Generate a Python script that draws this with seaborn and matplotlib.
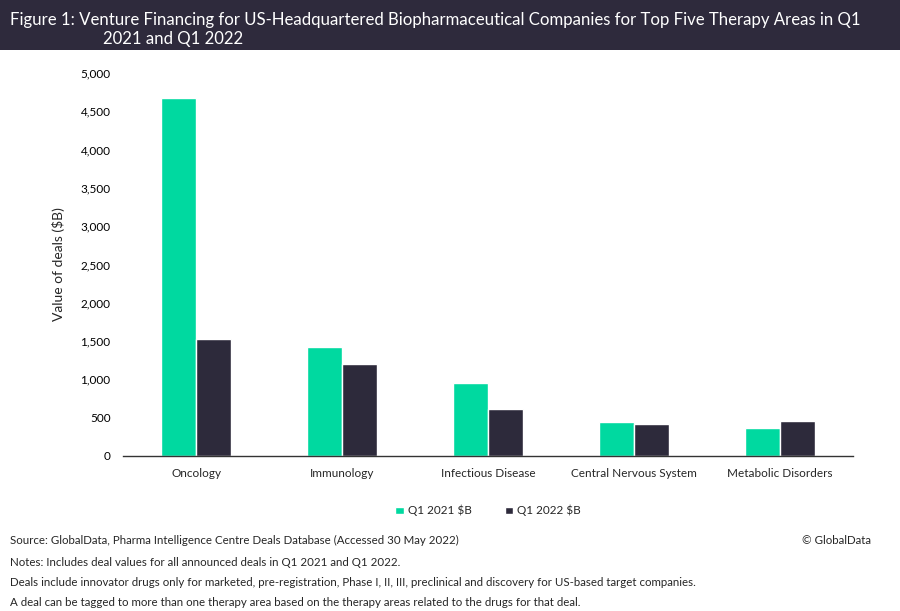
import pandas as pd
import numpy as np
import matplotlib
matplotlib.use("Agg")
import matplotlib.pyplot as plt
from matplotlib.patches import Rectangle
from matplotlib.ticker import FuncFormatter, FixedLocator
import seaborn as sns

### values
areas = ['Oncology', 'Immunology', 'Infectious Disease',
         'Central Nervous System', 'Metabolic Disorders']
q1_2021 = [4670, 1427, 949, 444, 370]
q1_2022 = [1531, 1201, 610, 422, 453]
series = ['Q1 2021 $B', 'Q1 2022 $B']

yticks = [0, 500, 1000, 1500, 2000, 2500, 3000, 3500, 4000, 4500, 5000]

green = '#00D9A0'
dark = '#2D2A3B'

df = pd.DataFrame({
    'area': areas * 2,
    'value': q1_2021 + q1_2022,
    'series': [series[0]] * len(areas) + [series[1]] * len(areas),
})

sns.set_style('white')
plt.rcParams['font.family'] = ['Lato', 'DejaVu Sans']

fig = plt.figure(figsize=(9, 6.11), dpi=100)
ax = fig.add_axes([0.1367, 0.2537, 0.8111, 0.6268])

sns.barplot(data=df, x='area', y='value', hue='series', order=areas,
            hue_order=series, palette=[green, dark], width=0.48,
            saturation=1, ax=ax, legend=True)

ax.set_xlim(-0.5, len(areas) - 0.5)
ax.set_ylim(0, 5000)
ax.set_yticks(yticks)
ax.yaxis.set_major_formatter(FuncFormatter(lambda v, p: f'{int(v):,}'))
ax.tick_params(axis='y', length=0, labelsize=8.5, colors='#000000', pad=9)
ax.tick_params(axis='x', which='major', length=0, labelsize=8.5, pad=9)
ax.xaxis.set_minor_locator(FixedLocator(np.arange(-0.5, len(areas), 1.0)))
ax.tick_params(axis='x', which='minor', length=4, width=1, color='#333333',
               direction='out')
ax.set_xlabel('')
ax.set_ylabel('Value of deals ($B)', fontsize=10, labelpad=11)
for s in ['top', 'right', 'left']:
    ax.spines[s].set_visible(False)
ax.spines['bottom'].set_color('#333333')
ax.spines['bottom'].set_linewidth(1)

leg = ax.legend(loc='upper center', bbox_to_anchor=(0.5, -0.1), ncol=2,
                frameon=False, fontsize=8.5, handlelength=0.75, handleheight=0.5,
                columnspacing=2.8, handletextpad=0.3)

### title band
fig.patches.append(Rectangle((0, 1 - 50 / 611), 1, 50 / 611, transform=fig.transFigure,
                             facecolor='#2E2A3C', edgecolor='none', zorder=0))
fig.text(10 / 900, 1 - 20 / 611,
         'Figure 1: Venture Financing for US-Headquartered Biopharmaceutical Companies for Top Five Therapy Areas in Q1',
         color='white', fontsize=12.05, va='center', ha='left')
fig.text(103 / 900, 1 - 39 / 611, '2021 and Q1 2022',
         color='white', fontsize=12.05, va='center', ha='left')

### footer notes
notes = [
    'Source: GlobalData, Pharma Intelligence Centre Deals Database (Accessed 30 May 2022)',
    'Notes: Includes deal values for all announced deals in Q1 2021 and Q1 2022.',
    'Deals include innovator drugs only for marketed, pre-registration, Phase I, II, III, preclinical and discovery for US-based target companies.',
    'A deal can be tagged to more than one therapy area based on the therapy areas related to the drugs for that deal.',
]
note_y = [540, 562, 583, 603]
for t, yy in zip(notes, note_y):
    fig.text(10 / 900, 1 - yy / 611, t, fontsize=8.3, va='center', ha='left')
fig.text(871 / 900, 1 - 540 / 611, '© GlobalData', fontsize=8.3, va='center',
         ha='right')

fig.savefig('out.png', dpi=100)
